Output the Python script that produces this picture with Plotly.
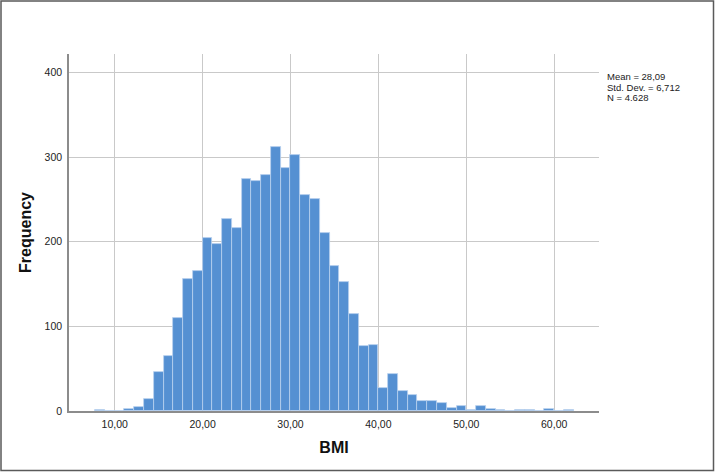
import plotly.graph_objects as go

# Histogram of BMI (SPSS style), bin width 10/9
bin_width = 10 / 9
first_bin_start = 7 + 7 / 9  # 7.78
counts = [1, 0, 0, 2, 5, 14, 46, 65, 110, 156, 166, 205, 197, 227, 216, 274,
          272, 279, 312, 287, 303, 255, 251, 211, 171, 153, 115, 77, 78, 27,
          44, 24, 19, 12, 12, 10, 3, 6, 1, 6, 2, 1, 0, 1, 1, 0, 2, 0, 1]
x_tickvals = [10, 20, 30, 40, 50, 60]
x_ticklabels = ["10,00", "20,00", "30,00", "40,00", "50,00", "60,00"]
y_tickvals = [0, 100, 200, 300, 400]
stats_lines = ["Mean = 28,09", "Std. Dev. = 6,712", "N = 4.628"]

centers = [first_bin_start + bin_width * (i + 0.5) for i in range(len(counts))]

fig = go.Figure()
fig.add_trace(go.Bar(
    x=centers, y=counts, width=bin_width,
    marker=dict(color="#5590D2", line=dict(color="#b9d1ee", width=0.8)),
    hoverinfo="x+y", showlegend=False,
))

font_family = "Liberation Sans, Arial, sans-serif"
fig.update_layout(
    width=715, height=472,
    margin=dict(l=69, r=116, t=54, b=61),
    paper_bgcolor="white", plot_bgcolor="white",
    bargap=0,
    font=dict(family=font_family, color="#222"),
    xaxis=dict(
        range=[4.8, 65.1], tickvals=x_tickvals, ticktext=x_ticklabels,
        showgrid=True, gridcolor="#c9c9c9", gridwidth=1,
        showline=True, linecolor="#8c8c8c", linewidth=1.5,
        ticks="", zeroline=False, tickfont=dict(size=10.5, color="#222"),
        ticklabelstandoff=3,
        title=dict(text="<b>BMI</b>", font=dict(size=16, color="#111"), standoff=12),
    ),
    yaxis=dict(
        range=[0, 422], tickvals=y_tickvals,
        showgrid=True, gridcolor="#c9c9c9", gridwidth=1,
        showline=True, linecolor="#8c8c8c", linewidth=1.5,
        ticks="", zeroline=False, tickfont=dict(size=10.5, color="#222"),
        ticklabelstandoff=3,
        title=dict(text="<b>Frequency</b>", font=dict(size=16, color="#111"), standoff=9),
    ),
)

# statistics text
for i, line in enumerate(stats_lines):
    fig.add_annotation(
        xref="paper", yref="paper", x=(606 - 69) / 530, y=(411 - (76.5 + 10.5 * i)) / 357,
        xanchor="left", yanchor="middle", text=line, showarrow=False, borderpad=0,
        font=dict(size=9.5, color="#222", family=font_family),
    )

# outer frame
fig.add_shape(
    type="rect", xref="paper", yref="paper",
    x0=(1 - 69) / 530, x1=(713.5 - 69) / 530,
    y0=(411 - 470.5) / 357, y1=(411 - 1) / 357,
    line=dict(color="#5a5a5a", width=1.5), fillcolor="rgba(0,0,0,0)", layer="above",
)

fig.write_html(
    "out.html",
    config={"displayModeBar": False},
    post_script="document.body.style.margin='0';document.body.style.padding='0';"
                "document.documentElement.style.overflow='hidden';",
)
